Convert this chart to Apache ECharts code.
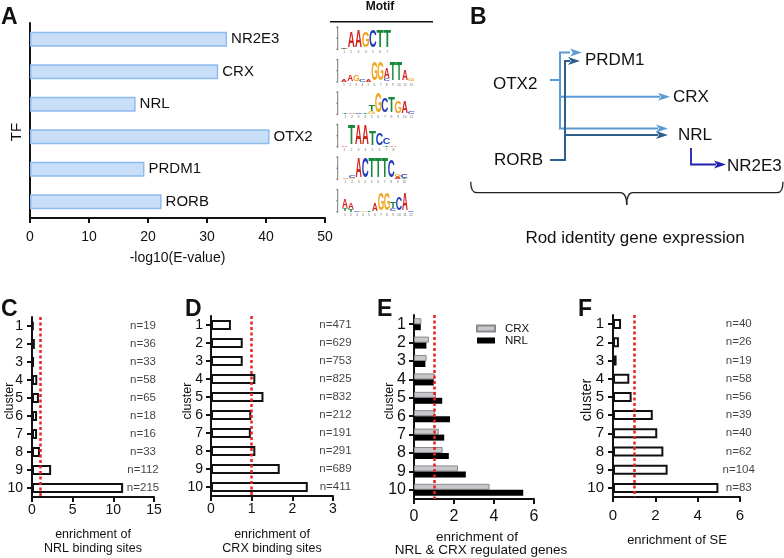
<!DOCTYPE html>
<html><head><meta charset="utf-8">
<script src="https://cdn.jsdelivr.net/npm/echarts@6/dist/echarts.min.js"></script>
<style>html,body{margin:0;padding:0;background:#fff}#c{width:784px;height:558px}</style>
</head><body><div id="c"></div>
<script>
// ---------- data ----------
const tfNames = ['NR2E3', 'CRX', 'NRL', 'OTX2', 'PRDM1', 'RORB'];
const tfLogE = [33.4, 31.9, 17.9, 40.6, 19.4, 22.3];
const clusters = ['1', '2', '3', '4', '5', '6', '7', '8', '9', '10'];
const nrlSiteEnrich = [0.2, 0.35, 0.25, 0.65, 0.85, 0.62, 0.62, 0.98, 2.35, 11.2];
const nrlSiteN = [19, 36, 33, 58, 65, 18, 16, 33, 112, 215];
const crxSiteEnrich = [0.49, 0.78, 0.78, 1.09, 1.29, 0.99, 0.98, 1.09, 1.69, 2.38];
const crxSiteN = [471, 629, 753, 825, 832, 212, 191, 291, 689, 411];
const regGenesCRX = [0.37, 0.75, 0.63, 1.04, 1.1, 1.04, 1.24, 1.43, 2.2, 3.78];
const regGenesNRL = [0.34, 0.62, 0.57, 0.99, 1.41, 1.8, 1.51, 1.74, 2.59, 5.46];
const seEnrich = [0.38, 0.28, 0.17, 0.77, 0.88, 1.88, 2.09, 2.38, 2.58, 4.98];
const seN = [40, 26, 19, 58, 56, 39, 40, 62, 104, 83];
const baselineEnrichment = 1;
// motif logos: columns, each a bottom-to-top stack of [letter, bits]
const motifNR2E3 = [[['T',0.06],['A',0.08]],[['A',1.65]],[['A',1.7]],[['G',1.6]],[['C',1.7]],[['T',1.7]],[['T',1.7]]];
const motifCRX = [[['A',0.2]],[['A',0.6]],[['G',0.6]],[['C',0.2]],[['A',0.2]],[['G',1.8]],[['G',1.8]],[['C',0.3],['A',1.0]],[['T',1.9]],[['T',1.9]],[['A',1.1]],[['G',0.3]]];
const motifNRL = [[['T',0.1]],[['A',0.1]],[['C',0.1]],[['T',0.05]],[['G',0.25],['T',0.6]],[['G',2.0]],[['C',1.5]],[['T',1.65]],[['G',1.15]],[['A',1.15]],[['C',0.3]]];
const motifOTX2 = [[['A',0.15]],[['T',2.0]],[['A',2.0]],[['A',2.0]],[['T',1.5]],[['C',1.2]],[['T',0.15],['C',0.7]],[['A',0.1]]];
const motifPRDM1 = [[['A',0.15]],[['G',0.1],['C',0.2]],[['A',2.0]],[['C',2.0]],[['T',2.0]],[['T',2.0]],[['T',2.0]],[['C',1.7]],[['A',0.2],['G',0.25]],[['T',0.1],['C',0.4]]];
const motifRORB = [[['T',0.3],['A',0.9]],[['T',0.2],['A',0.6]],[['C',0.1]],[['G',0.1]],[['T',0.15]],[['A',0.8]],[['G',1.7]],[['G',1.7]],[['C',0.3],['T',0.7]],[['C',1.3]],[['A',1.7]],[['C',0.1]]];
const motifs = [motifNR2E3, motifCRX, motifNRL, motifOTX2, motifPRDM1, motifRORB];

// ---------- styling ----------
const FF = '"Liberation Sans", Arial, Helvetica, sans-serif';
const INK = '#111';
const chart = echarts.init(document.getElementById('c'), null, {renderer: 'canvas'});

function valueX(gi, max, interval, fs, margin) {
  return {type: 'value', gridIndex: gi, min: 0, max: max, interval: interval,
    axisLine: {show: true, onZero: false, lineStyle: {color: INK, width: 2}},
    axisTick: {show: true, length: 5, lineStyle: {color: INK, width: 2}},
    axisLabel: {fontSize: fs, color: INK, margin: margin, fontFamily: FF},
    splitLine: {show: false}};
}
function catY(gi, data, fs, margin, showLabels, showTicks) {
  return {type: 'category', gridIndex: gi, data: data, inverse: true,
    axisLine: {show: true, onZero: false, lineStyle: {color: INK, width: 2}},
    axisTick: {show: showTicks, alignWithLabel: true, interval: 0, length: 5, lineStyle: {color: INK, width: 2}},
    axisLabel: {show: showLabels, interval: 0, fontSize: fs, color: INK, margin: margin, fontFamily: FF},
    splitLine: {show: false}};
}
const redLine = {silent: true, symbol: ['none', 'none'], label: {show: false},
  lineStyle: {color: '#e8231f', width: 2.5, type: [3, 2.5]},
  data: [{xAxis: baselineEnrichment}]};
function nSeries(gi, xv, ns) {
  return {type: 'scatter', xAxisIndex: gi, yAxisIndex: gi, symbolSize: 0, clip: false, silent: true,
    data: ns.map((n, i) => [xv, i, n]),
    label: {show: true, position: 'inside', formatter: p => 'n=' + p.value[2], fontSize: 11.5, color: INK, fontFamily: FF}};
}
const openBar = {color: '#fff', borderColor: INK, borderWidth: 2};

const option = {
  animation: false,
  textStyle: {fontFamily: FF},
  grid: [
    {left: 30, top: 23, width: 295, height: 195},
    {left: 32, top: 317, width: 122, height: 180},
    {left: 211, top: 316, width: 122, height: 180},
    {left: 414, top: 315, width: 120, height: 184},
    {left: 613, top: 315, width: 127, height: 182}
  ],
  xAxis: [valueX(0, 50, 10, 14, 12), valueX(1, 15, 5, 14, 6), valueX(2, 3, 1, 14, 6), valueX(3, 6, 2, 16, 10), valueX(4, 6, 2, 15, 11)],
  yAxis: [catY(0, tfNames, 14, 8, false, false), catY(1, clusters, 14, 9, true, true), catY(2, clusters, 14, 8, true, true),
          catY(3, clusters, 16, 8, true, true), catY(4, clusters, 15, 9, true, true)],
  legend: {data: ['CRX', 'NRL'], left: 476, top: 322.5, padding: 0, orient: 'vertical', itemWidth: 18, itemHeight: 6, itemGap: 0,
    icon: 'rect', textStyle: {fontSize: 11.5, lineHeight: 11.3, color: INK, fontFamily: FF, padding: [0, 0, 0, 5]}},
  series: [
    {type: 'bar', xAxisIndex: 0, yAxisIndex: 0, data: tfLogE, barWidth: 15,
      itemStyle: {color: '#c9def8', borderColor: '#8dbbee', borderWidth: 1.5},
      label: {show: true, position: 'right', distance: 4, formatter: p => tfNames[p.dataIndex], fontSize: 15, color: INK, fontFamily: FF}},
    {type: 'bar', xAxisIndex: 1, yAxisIndex: 1, data: nrlSiteEnrich, barWidth: 10, itemStyle: openBar, markLine: redLine},
    nSeries(1, 13.65, nrlSiteN),
    {type: 'bar', xAxisIndex: 2, yAxisIndex: 2, data: crxSiteEnrich, barWidth: 10, itemStyle: openBar, markLine: redLine},
    nSeries(2, 3.06, crxSiteN),
    {name: 'CRX', type: 'bar', xAxisIndex: 3, yAxisIndex: 3, data: regGenesCRX, barWidth: 6, barGap: '0%',
      itemStyle: {color: '#c8c8cc', borderColor: '#8a8a8e', borderWidth: 1}},
    {name: 'NRL', type: 'bar', xAxisIndex: 3, yAxisIndex: 3, data: regGenesNRL, barWidth: 6, barGap: '0%',
      itemStyle: {color: '#000'}, markLine: redLine},
    {type: 'bar', xAxisIndex: 4, yAxisIndex: 4, data: seEnrich, barWidth: 10, itemStyle: openBar, markLine: redLine},
    nSeries(4, 5.94, seN)
  ]
};
chart.setOption(option);

// ---------- graphic overlay ----------
const g = [];
function txt(x, y, text, fs, opt) {
  opt = opt || {};
  g.push({type: 'text', x: x, y: y, rotation: opt.rot || 0, silent: true, z: 20,
    style: {text: text, fontSize: fs, fontWeight: opt.fw || 'normal', fontFamily: FF, fill: opt.fill || INK,
      align: opt.align || 'left', verticalAlign: 'middle'}});
}
function pl(points, color, lw) {
  g.push({type: 'polyline', shape: {points: points}, silent: true, z: 15,
    style: {stroke: color, lineWidth: lw || 2, fill: null}});
}
function curve(x1, y1, cx, cy, x2, y2, color, lw) {
  g.push({type: 'bezierCurve', shape: {x1: x1, y1: y1, cpx1: cx, cpy1: cy, x2: x2, y2: y2}, silent: true, z: 15,
    style: {stroke: color, lineWidth: lw, fill: null}});
}
function arrowHead(tipX, y, color) {
  g.push({type: 'polygon', shape: {points: [[tipX, y], [tipX - 12, y - 4], [tipX - 9, y], [tipX - 12, y + 4]]}, silent: true, z: 16,
    style: {fill: color}});
}
// panel letters
txt(1, 17.7, 'A', 23, {fw: 'bold'});
txt(470, 18, 'B', 23, {fw: 'bold'});
txt(1, 310, 'C', 23, {fw: 'bold'});
txt(185, 310, 'D', 23, {fw: 'bold'});
txt(377, 310, 'E', 23, {fw: 'bold'});
txt(578, 310, 'F', 23, {fw: 'bold'});
// axis titles
txt(17, 132, 'TF', 15, {rot: Math.PI / 2, align: 'center'});
txt(177.5, 258, '-log10(E-value)', 14, {align: 'center'});
txt(10, 401, 'cluster', 12.5, {rot: Math.PI / 2, align: 'center'});
txt(93, 535, 'enrichment of', 12.5, {align: 'center'});
txt(93, 548.5, 'NRL binding sites', 12.5, {align: 'center'});
txt(188, 401, 'cluster', 12.5, {rot: Math.PI / 2, align: 'center'});
txt(272, 535, 'enrichment of', 12.5, {align: 'center'});
txt(272, 548.5, 'CRX binding sites', 12.5, {align: 'center'});
txt(390, 401, 'cluster', 12.5, {rot: Math.PI / 2, align: 'center'});
txt(477, 537.5, 'enrichment of', 13.5, {align: 'center'});
txt(481, 550.7, 'NRL & CRX regulated genes', 13.5, {align: 'center'});
txt(587, 400, 'cluster', 14.5, {rot: Math.PI / 2, align: 'center'});
txt(677, 540, 'enrichment of SE', 13, {align: 'center'});
// Motif header
txt(380, 7, 'Motif', 12, {fw: 'bold', align: 'center'});
pl([[330, 21.7], [433, 21.7]], INK, 1.5);

// Panel B network
const LB = '#5b9bd5', DB = '#2d5e8c', NB = '#1f1fae';
pl([[550, 80], [560, 80]], LB);
pl([[570, 52.5], [560, 52.5], [560, 128.5], [658, 128.5]], LB);
pl([[560, 96.7], [660, 96.7]], LB);
arrowHead(582, 52.5, LB); arrowHead(670, 96.7, LB); arrowHead(668, 128.5, LB);
pl([[550, 160], [565, 160], [565, 61], [570, 61]], DB);
pl([[565, 135], [658, 135]], DB);
arrowHead(580, 61, DB); arrowHead(668, 135, DB);
pl([[691, 148], [691, 164.5], [716, 164.5]], NB, 1.8);
arrowHead(726, 164.5, NB);
txt(585, 60, 'PRDM1', 17); txt(493, 84, 'OTX2', 17); txt(673, 97, 'CRX', 17);
txt(678, 135, 'NRL', 17); txt(494, 160, 'RORB', 17); txt(727, 166.5, 'NR2E3', 17);
// curly brace
const BR = '#222', BW = 1.3;
curve(470.7, 181.7, 470.7, 192.7, 477, 192.7, BR, BW);
pl([[477, 192.7], [620, 192.7]], BR, BW);
curve(620, 192.7, 626.7, 192.7, 626.7, 205, BR, BW);
curve(626.7, 205, 626.7, 192.7, 633, 192.7, BR, BW);
pl([[633, 192.7], [777, 192.7]], BR, BW);
curve(777, 192.7, 783, 192.7, 783, 181.7, BR, BW);
txt(635, 238, 'Rod identity gene expression', 17, {align: 'center'});

// Sequence logos
const letterColor = {A: '#d3231d', C: '#1f3dbb', G: '#f2a51f', T: '#168a3a'};
const letterVis = {A: 0.70, C: 0.64, G: 0.68, T: 0.58};
const logoLayout = [[340.5, 7.2], [341, 6.1], [342, 6.6], [341, 7], [342.5, 6.5], [342, 6]];
const LFS = 20, PX_PER_BIT = 10;
motifs.forEach((cols, r) => {
  const cy = chart.convertToPixel({yAxisIndex: 0}, tfNames[r]);
  const base = cy + 10;
  const x0 = logoLayout[r][0], w = logoLayout[r][1];
  pl([[337.7, base - 23], [337.7, base + 1]], '#555', 0.8);
  [0, 1, 2].forEach(b => pl([[336, base - b * 11], [337.7, base - b * 11]], '#555', 0.6));
  cols.forEach((stack, c) => {
    const cx = x0 + c * w + w / 2;
    let y = base;
    stack.forEach(([ch, bits]) => {
      const h = bits * PX_PER_BIT;
      g.push({type: 'text', x: cx, y: y - h / 2, scaleX: (w * 0.95) / (letterVis[ch] * LFS), scaleY: h / (0.72 * LFS),
        silent: true, z: 18,
        style: {text: ch, fontSize: LFS, fontWeight: 'bold', fontFamily: FF, fill: letterColor[ch], align: 'center', verticalAlign: 'middle'}});
      y -= h;
    });
    g.push({type: 'text', x: cx, y: base + 3, silent: true, z: 18,
      style: {text: String(c + 1), fontSize: 3.5, fontFamily: FF, fill: '#777', align: 'center', verticalAlign: 'middle'}});
  });
});
chart.setOption({graphic: {elements: g}});
</script>
</body></html>
